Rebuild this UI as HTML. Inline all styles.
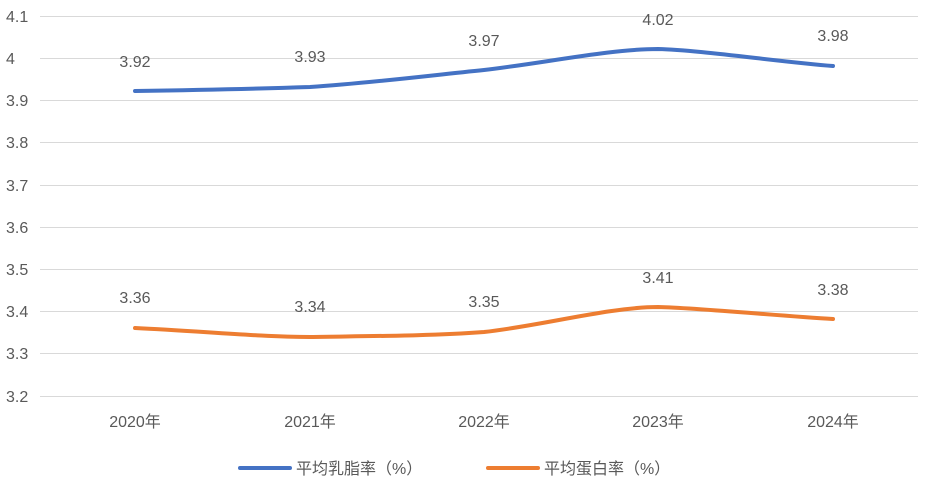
<!DOCTYPE html>
<html><head><meta charset="utf-8"><style>
html,body{margin:0;padding:0;background:#fff;}
text{font-family:"Liberation Sans","Noto Sans CJK SC",sans-serif;fill:#595959;}
</style></head><body>
<svg width="928" height="490" viewBox="0 0 928 490" xmlns="http://www.w3.org/2000/svg">
<g stroke="#d9d9d9" stroke-width="1">
<line x1="40" x2="918" y1="16.5" y2="16.5"/>
<line x1="40" x2="918" y1="58.5" y2="58.5"/>
<line x1="40" x2="918" y1="100.5" y2="100.5"/>
<line x1="40" x2="918" y1="142.5" y2="142.5"/>
<line x1="40" x2="918" y1="185.5" y2="185.5"/>
<line x1="40" x2="918" y1="227.5" y2="227.5"/>
<line x1="40" x2="918" y1="269.5" y2="269.5"/>
<line x1="40" x2="918" y1="311.5" y2="311.5"/>
<line x1="40" x2="918" y1="353.5" y2="353.5"/>
<line x1="40" x2="918" y1="396.5" y2="396.5"/>
</g>
<g font-size="16" text-anchor="start">
<text x="6" y="22">4.1</text>
<text x="6" y="64">4</text>
<text x="6" y="106">3.9</text>
<text x="6" y="148">3.8</text>
<text x="6" y="191">3.7</text>
<text x="6" y="233">3.6</text>
<text x="6" y="275">3.5</text>
<text x="6" y="317">3.4</text>
<text x="6" y="359">3.3</text>
<text x="6" y="402">3.2</text>
</g>
<g font-size="16" text-anchor="middle">
<text x="135" y="427">2020年</text>
<text x="310" y="427">2021年</text>
<text x="484" y="427">2022年</text>
<text x="658" y="427">2023年</text>
<text x="833" y="427">2024年</text>
</g>
<path d="M135,91 C200,90 250,89 310,87 C370,83 425,76 484,70 C545,63 610,49 658,49 C700,50 780,62 833,66" fill="none" stroke="#4472c4" stroke-width="4" stroke-linecap="round"/>
<path d="M135,328 C200,331 260,337 310,337 C370,336 430,336 484,332 C540,326 610,307 658,307 C700,308 780,316 833,319" fill="none" stroke="#ed7d31" stroke-width="4" stroke-linecap="round"/>
<g font-size="16" text-anchor="middle">
<text x="135" y="67">3.92</text>
<text x="310" y="62">3.93</text>
<text x="484" y="46">3.97</text>
<text x="658" y="25">4.02</text>
<text x="833" y="41">3.98</text>
<text x="135" y="303">3.36</text>
<text x="310" y="312">3.34</text>
<text x="484" y="307">3.35</text>
<text x="658" y="283">3.41</text>
<text x="833" y="295">3.38</text>
</g>
<line x1="240" x2="290" y1="468" y2="468" stroke="#4472c4" stroke-width="4" stroke-linecap="round"/>
<text x="296" y="474" font-size="16">平均乳脂率（%）</text>
<line x1="488" x2="538" y1="468" y2="468" stroke="#ed7d31" stroke-width="4" stroke-linecap="round"/>
<text x="544" y="474" font-size="16">平均蛋白率（%）</text>
</svg>
</body></html>
